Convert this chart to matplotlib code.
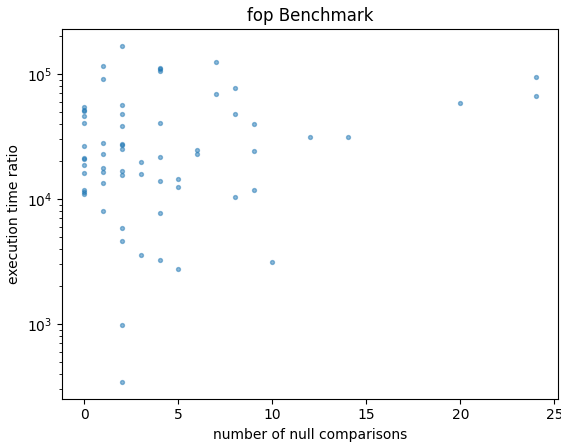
import matplotlib
matplotlib.use("Agg")
import matplotlib.pyplot as plt

# number of null comparisons vs execution time ratio
null_cmp = [0] * 13 + [1] * 8 + [2] * 13 + [3] * 3 + [4] * 8 + [5] * 3 \
    + [6] * 2 + [7] * 2 + [8] * 3 + [9] * 3 + [10, 12, 14, 20, 24, 24]

time_ratio = [
    # 0
    54700, 51500, 50600, 46400, 40800, 26500, 21400, 21000, 18600, 16200,
    11800, 11300, 10900,
    # 1
    115800, 91200, 27900, 22800, 17800, 16500, 13400, 8020,
    # 2
    167500, 56500, 47600, 38400, 27500, 27000, 25000, 16700, 15500,
    5830, 4610, 982, 344,
    # 3
    19700, 15900, 3550,
    # 4
    111000, 106500, 40600, 21600, 14000, 7690, 3270, 109000,
    # 5
    14400, 12600, 2750,
    # 6
    24500, 22800,
    # 7
    125400, 69500,
    # 8
    76900, 47600, 10400,
    # 9
    39600, 24100, 11800,
    # 10, 12, 14, 20, 24, 24
    3120, 31500, 31600, 58300, 94100, 66700,
]

fig = plt.figure(figsize=(5.61, 4.44), dpi=100)
ax = fig.add_axes([0.110, 0.102, 0.885, 0.832])

ax.scatter(null_cmp, time_ratio, s=8, alpha=0.5, color='tab:blue')
ax.set_yscale('log')
ax.set_title('fop Benchmark')
ax.set_xlabel('number of null comparisons')
ax.set_ylabel('execution time ratio')

fig.savefig('out.png', dpi=100)
